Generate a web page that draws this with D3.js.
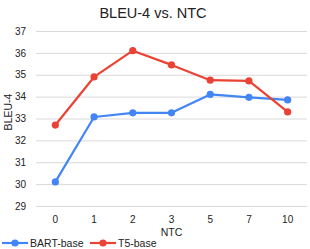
<!DOCTYPE html>
<html>
<head>
<meta charset="utf-8">
<script src="https://cdn.jsdelivr.net/npm/d3@7"></script>
<style>
  body { margin: 0; background: #fff; }
  text { font-family: "Liberation Sans", Arial, sans-serif; fill: #222; }
</style>
</head>
<body>
<div id="chart"></div>
<script>
const categories = ["0", "1", "2", "3", "5", "7", "10"];
const bartBase = [30.1, 33.07, 33.26, 33.26, 34.1, 33.97, 33.85];
const t5Base = [32.7, 34.9, 36.1, 35.45, 34.75, 34.72, 33.3];
const yTicks = [29, 30, 31, 32, 33, 34, 35, 36, 37];

const series = [
    { name: "BART-base", color: "#4285f4", values: bartBase },
    { name: "T5-base", color: "#ea4335", values: t5Base }
];

const svg = d3.select("#chart")
    .append("svg")
    .attr("width", 310)
    .attr("height", 249);

const margin = { top: 31, right: 3, bottom: 43, left: 36 };
const width = 310 - margin.left - margin.right;
const height = 249 - margin.top - margin.bottom;

const x = d3.scaleBand()
    .domain(categories)
    .range([margin.left, margin.left + width]);

const y = d3.scaleLinear()
    .domain([29, 37])
    .range([margin.top + height, margin.top]);

// title
svg.append("text")
    .attr("x", 153)
    .attr("y", 18)
    .attr("text-anchor", "middle")
    .style("font-size", "14.5px")
    .text("BLEU-4 vs. NTC");

// gridlines + y labels
const yAxis = svg.append("g")
    .attr("transform", "translate(" + margin.left + ",0)")
    .call(d3.axisLeft(y).tickValues(yTicks).tickSize(-width).tickPadding(10));
yAxis.select(".domain").remove();
yAxis.selectAll(".tick line").attr("stroke", "#d9d9d9");
yAxis.selectAll(".tick text")
    .style("font-size", "10px")
    .style("font-family", "Liberation Sans, Arial, sans-serif")
    .attr("fill", "#333");

// x labels
const xAxis = svg.append("g")
    .attr("transform", "translate(0," + (margin.top + height) + ")")
    .call(d3.axisBottom(x).tickSize(0).tickPadding(10));
xAxis.select(".domain").remove();
xAxis.selectAll(".tick text")
    .style("font-size", "10px")
    .style("font-family", "Liberation Sans, Arial, sans-serif")
    .attr("fill", "#333");

// axis titles
svg.append("text")
    .attr("x", margin.left + width / 2)
    .attr("y", 236)
    .attr("text-anchor", "middle")
    .style("font-size", "10.5px")
    .text("NTC");

svg.append("text")
    .attr("transform", "translate(12,112) rotate(-90)")
    .attr("text-anchor", "middle")
    .style("font-size", "10.5px")
    .text("BLEU-4");

const line = d3.line()
    .x((d, i) => x(categories[i]) + x.bandwidth() / 2)
    .y(d => y(d));

series.forEach(function(s) {
    svg.append("path")
        .datum(s.values)
        .attr("fill", "none")
        .attr("stroke", s.color)
        .attr("stroke-width", 2.2)
        .attr("stroke-linejoin", "round")
        .attr("d", line);

    svg.selectAll(null)
        .data(s.values)
        .enter().append("circle")
        .attr("cx", (d, i) => x(categories[i]) + x.bandwidth() / 2)
        .attr("cy", d => y(d))
        .attr("r", 3.6)
        .attr("fill", s.color);
});

// legend
const legendX = [0, 88];
series.forEach(function(s, i) {
    const g = svg.append("g").attr("transform", "translate(" + legendX[i] + ",243)");
    g.append("line")
        .attr("x1", 2).attr("x2", 28)
        .attr("stroke", s.color).attr("stroke-width", 2.2);
    g.append("circle").attr("cx", 15).attr("r", 3.6).attr("fill", s.color);
    g.append("text")
        .attr("x", 30)
        .attr("dy", "0.35em")
        .style("font-size", "10.5px")
        .text(s.name);
});
</script>
</body>
</html>
